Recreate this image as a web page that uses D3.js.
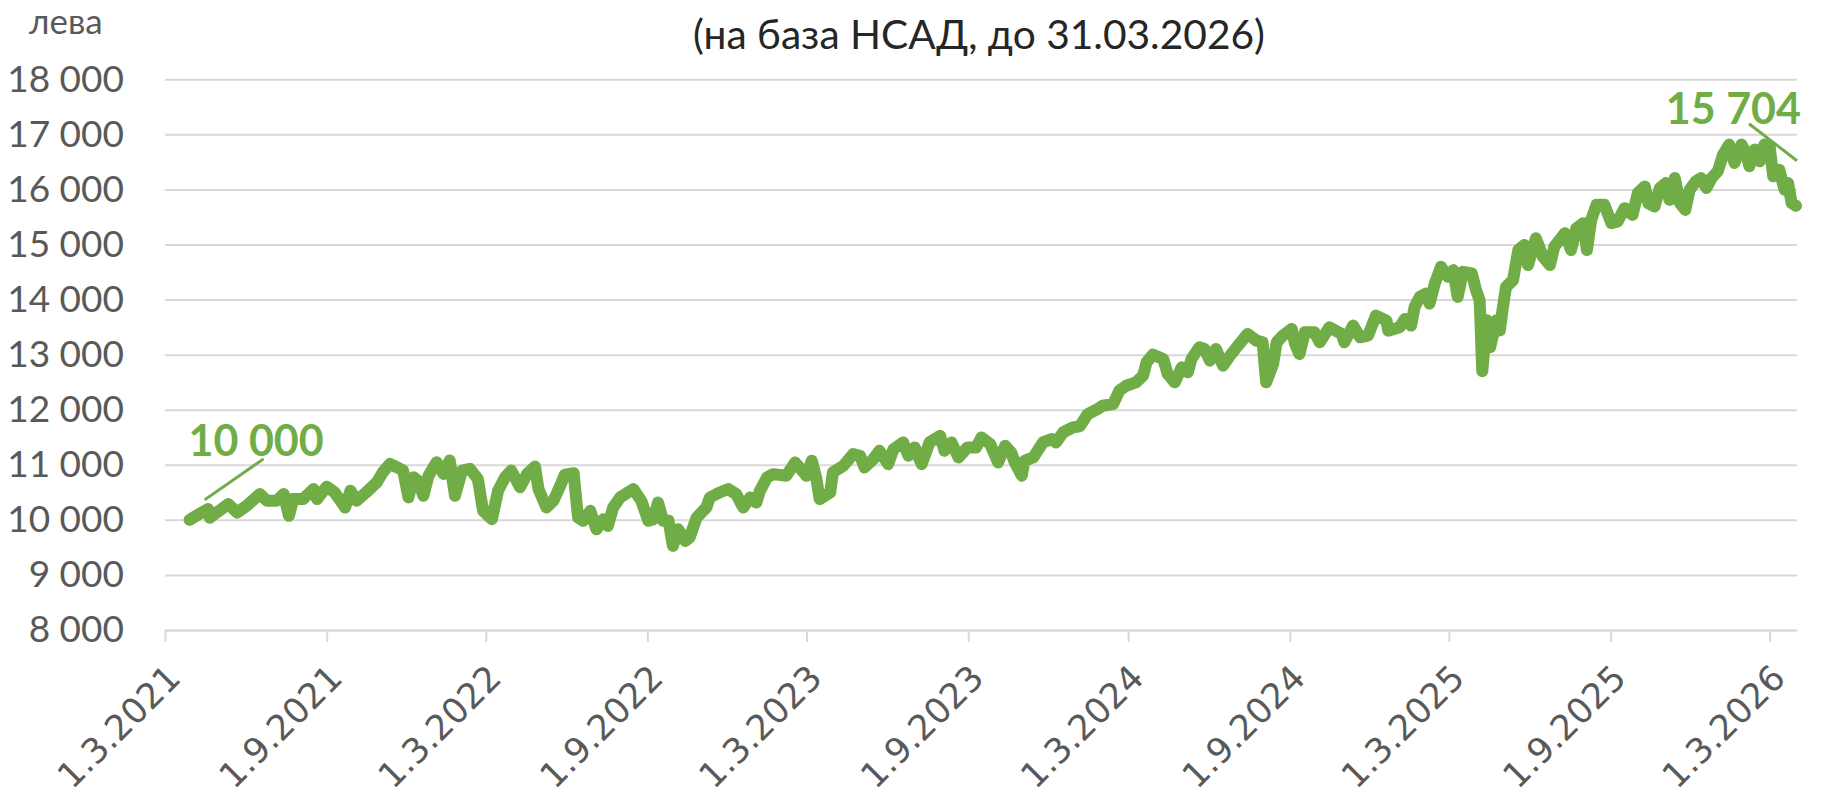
<!DOCTYPE html>
<html>
<head>
<meta charset="utf-8">
<script src="https://cdn.jsdelivr.net/npm/d3@7"></script>
<style>
  body { margin: 0; background: #fff; }
  svg { display: block; }
</style>
</head>
<body>
<svg></svg>
<script>
// values, [date, value in лева]
const pts2021 = [
  ['2021-03-29', 10000], ['2021-04-10', 10116], ['2021-04-19', 10195], ['2021-04-21', 10040],
  ['2021-04-29', 10134], ['2021-05-12', 10286], ['2021-05-22', 10134], ['2021-06-02', 10256],
  ['2021-06-17', 10470], ['2021-06-25', 10347], ['2021-07-06', 10347], ['2021-07-14', 10470],
  ['2021-07-20', 10073], ['2021-07-25', 10378], ['2021-08-05', 10378], ['2021-08-17', 10560],
  ['2021-08-21', 10378], ['2021-09-01', 10603], ['2021-09-10', 10500], ['2021-09-22', 10225],
  ['2021-09-28', 10530], ['2021-10-05', 10347], ['2021-10-16', 10500], ['2021-10-28', 10682],
  ['2021-11-04', 10865], ['2021-11-12', 11017], ['2021-11-20', 10956], ['2021-11-27', 10895],
  ['2021-12-03', 10408], ['2021-12-09', 10773], ['2021-12-14', 10712], ['2021-12-20', 10438],
  ['2021-12-26', 10804]
];
const pts2022 = [
  ['2022-01-04', 11047], ['2022-01-12', 10834], ['2022-01-19', 11078], ['2022-01-25', 10438],
  ['2022-02-02', 10895], ['2022-02-11', 10926], ['2022-02-20', 10743], ['2022-02-26', 10164],
  ['2022-03-08', 10012], ['2022-03-15', 10530], ['2022-03-23', 10773], ['2022-03-30', 10895],
  ['2022-04-09', 10591], ['2022-04-17', 10834], ['2022-04-26', 10968], ['2022-04-30', 10560],
  ['2022-05-09', 10225], ['2022-05-17', 10347], ['2022-05-24', 10591], ['2022-05-30', 10822],
  ['2022-06-09', 10847], ['2022-06-14', 10043], ['2022-06-20', 9982], ['2022-06-28', 10164],
  ['2022-07-05', 9829], ['2022-07-13', 10012], ['2022-07-18', 9890], ['2022-07-24', 10225],
  ['2022-08-01', 10408], ['2022-08-16', 10560], ['2022-08-25', 10347], ['2022-09-02', 9982],
  ['2022-09-08', 10012], ['2022-09-13', 10315], ['2022-09-19', 9982], ['2022-09-25', 9982],
  ['2022-09-30', 9527], ['2022-10-06', 9830], ['2022-10-14', 9618], ['2022-10-19', 9679],
  ['2022-10-27', 10042], ['2022-11-07', 10224], ['2022-11-11', 10406], ['2022-11-22', 10497],
  ['2022-12-02', 10558], ['2022-12-11', 10467], ['2022-12-19', 10224], ['2022-12-27', 10406]
];
const pts2023 = [
  ['2023-01-03', 10315], ['2023-01-07', 10527], ['2023-01-15', 10770], ['2023-01-22', 10830],
  ['2023-02-06', 10800], ['2023-02-16', 11042], ['2023-02-21', 10952], ['2023-03-01', 10800],
  ['2023-03-07', 11073], ['2023-03-12', 10770], ['2023-03-16', 10376], ['2023-03-28', 10497],
  ['2023-03-31', 10861], ['2023-04-12', 10982], ['2023-04-23', 11194], ['2023-05-01', 11164],
  ['2023-05-06', 10952], ['2023-05-16', 11103], ['2023-05-23', 11255], ['2023-06-02', 11012],
  ['2023-06-08', 11285], ['2023-06-19', 11406], ['2023-06-25', 11164], ['2023-07-02', 11315],
  ['2023-07-10', 11012], ['2023-07-19', 11406], ['2023-07-31', 11527], ['2023-08-05', 11255],
  ['2023-08-13', 11406], ['2023-08-21', 11133], ['2023-08-31', 11315], ['2023-09-10', 11315],
  ['2023-09-16', 11497], ['2023-09-26', 11376], ['2023-10-05', 11042], ['2023-10-13', 11345],
  ['2023-10-20', 11224], ['2023-10-24', 11042], ['2023-11-01', 10800], ['2023-11-04', 11073],
  ['2023-11-14', 11133], ['2023-11-25', 11406], ['2023-12-05', 11467], ['2023-12-10', 11406],
  ['2023-12-18', 11588], ['2023-12-29', 11679]
];
const pts2024 = [
  ['2024-01-06', 11700], ['2024-01-15', 11921], ['2024-01-25', 12000], ['2024-02-01', 12073],
  ['2024-02-13', 12103], ['2024-02-20', 12346], ['2024-02-28', 12436], ['2024-03-10', 12497],
  ['2024-03-18', 12618], ['2024-03-22', 12861], ['2024-03-29', 13000], ['2024-04-10', 12921],
  ['2024-04-15', 12649], ['2024-04-23', 12497], ['2024-05-01', 12770], ['2024-05-08', 12679],
  ['2024-05-12', 12921], ['2024-05-21', 13133], ['2024-05-27', 13103], ['2024-06-02', 12891],
  ['2024-06-09', 13103], ['2024-06-17', 12800], ['2024-06-25', 12982], ['2024-07-04', 13164],
  ['2024-07-15', 13376], ['2024-07-25', 13255], ['2024-08-01', 13224], ['2024-08-05', 12497],
  ['2024-08-13', 12830], ['2024-08-17', 13224], ['2024-08-24', 13345], ['2024-09-03', 13467],
  ['2024-09-07', 13194], ['2024-09-12', 13012], ['2024-09-18', 13406], ['2024-09-29', 13406],
  ['2024-10-05', 13224], ['2024-10-16', 13497], ['2024-10-30', 13376], ['2024-11-02', 13224],
  ['2024-11-12', 13527], ['2024-11-20', 13315], ['2024-11-29', 13345], ['2024-12-08', 13709],
  ['2024-12-20', 13618], ['2024-12-22', 13436]
];
const pts2025 = [
  ['2025-01-04', 13497], ['2025-01-10', 13648], ['2025-01-17', 13527], ['2025-01-21', 13866],
  ['2025-01-27', 14049], ['2025-02-03', 14109], ['2025-02-07', 13927], ['2025-02-13', 14292],
  ['2025-02-20', 14596], ['2025-02-28', 14413], ['2025-03-06', 14535], ['2025-03-11', 14049],
  ['2025-03-17', 14505], ['2025-03-27', 14474], ['2025-04-01', 14170], ['2025-04-05', 13988],
  ['2025-04-08', 12700], ['2025-04-13', 13623], ['2025-04-17', 13137], ['2025-04-24', 13623],
  ['2025-04-28', 13441], ['2025-05-01', 13805], ['2025-05-05', 14231], ['2025-05-13', 14353],
  ['2025-05-19', 14900], ['2025-05-26', 14991], ['2025-05-30', 14626], ['2025-06-08', 15113],
  ['2025-06-16', 14778], ['2025-06-24', 14626], ['2025-06-29', 14961], ['2025-07-11', 15204],
  ['2025-07-18', 14900], ['2025-07-24', 15295], ['2025-08-01', 15386], ['2025-08-05', 14900],
  ['2025-08-10', 15447], ['2025-08-16', 15721], ['2025-08-25', 15721], ['2025-09-02', 15386],
  ['2025-09-09', 15417], ['2025-09-17', 15660], ['2025-09-26', 15538], ['2025-10-02', 15933],
  ['2025-10-10', 16055], ['2025-10-14', 15751], ['2025-10-21', 15690], ['2025-10-27', 16025],
  ['2025-11-03', 16116], ['2025-11-07', 15812], ['2025-11-13', 16207], ['2025-11-19', 15751],
  ['2025-11-25', 15629], ['2025-11-30', 15994], ['2025-12-07', 16146], ['2025-12-13', 16207],
  ['2025-12-19', 16025], ['2025-12-25', 16207]
];
const pts2026 = [
  ['2026-01-01', 16329], ['2026-01-07', 16633], ['2026-01-14', 16815], ['2026-01-20', 16481],
  ['2026-01-28', 16815], ['2026-02-02', 16663], ['2026-02-06', 16420], ['2026-02-12', 16724],
  ['2026-02-18', 16511], ['2026-02-23', 16815], ['2026-03-01', 16785], ['2026-03-05', 16237],
  ['2026-03-12', 16359], ['2026-03-18', 15994], ['2026-03-22', 16116], ['2026-03-26', 15751],
  ['2026-03-31', 15704]
];

const yTicks = [8000, 9000, 10000, 11000, 12000, 13000, 14000, 15000, 16000, 17000, 18000];
const xTickLabels = ['1.3.2021', '1.9.2021', '1.3.2022', '1.9.2022', '1.3.2023', '1.9.2023',
                     '1.3.2024', '1.9.2024', '1.3.2025', '1.9.2025', '1.3.2026'];
const xDomain = ['2021-03-01', '2026-03-31'];
const unitLabel = 'лева';
const subtitle = '(на база НСАД, до 31.03.2026)';

// set up
const width = 1832,
      height = 806;

const green = '#70ad47',
      gridColor = '#d9d9d9',
      labelColor = '#595959';

const svg = d3.select('svg')
              .attr('width', width)
              .attr('height', height);

const parseDay = d3.utcParse('%Y-%m-%d'),
      parseTick = d3.utcParse('%d.%m.%Y');

const fmt = d3.formatLocale({decimal: ',', thousands: ' ', grouping: [3], currency: ['', '']}).format(',');

const data = [].concat(pts2021, pts2022, pts2023, pts2024, pts2025, pts2026)
               .map(d => ({date: parseDay(d[0]), value: d[1]}));

// scales
const xscale = d3.scaleUtc()
                 .domain(xDomain.map(parseDay))
                 .range([165, 1796]);

const yscale = d3.scaleLinear()
                 .domain([8000, 18000])
                 .range([630, 79.3]);

// y axis + gridlines
const y_axis = d3.axisLeft(yscale)
                 .tickValues(yTicks)
                 .tickSize(-(1797 - 165))
                 .tickPadding(41)
                 .tickFormat(fmt);

const gy = svg.append('g')
   .attr('transform', 'translate(165, 0)')
   .call(y_axis);
gy.select('.domain').remove();
gy.selectAll('line').attr('stroke', gridColor).attr('stroke-width', 2);
gy.selectAll('text')
  .attr('fill', labelColor)
  .attr('font-family', 'Lato, sans-serif')
  .attr('font-size', 37);

// x axis
const x_axis = d3.axisBottom(xscale)
                 .tickValues(xTickLabels.map(parseTick))
                 .tickSize(12)
                 .tickSizeOuter(0)
                 .tickFormat((d, i) => xTickLabels[i]);

const gx = svg.append('g')
   .attr('transform', 'translate(0, 630)')
   .call(x_axis);
gx.select('.domain').attr('stroke', gridColor).attr('stroke-width', 2);
gx.selectAll('line').attr('stroke', gridColor).attr('stroke-width', 2);
gx.selectAll('text')
  .attr('x', 0).attr('y', 0).attr('dy', 0)
  .attr('text-anchor', 'end')
  .attr('transform', 'translate(17, 50) rotate(-45)')
  .attr('fill', labelColor)
  .attr('font-family', 'DejaVu Sans, sans-serif')
  .attr('font-size', 35);

// line
const lineFunction = d3.line()
      .x(d => xscale(d.date))
      .y(d => yscale(d.value));

svg.append('path')
   .datum(data)
   .attr('d', lineFunction)
   .attr('fill', 'none')
   .attr('stroke', green)
   .attr('stroke-width', 12)
   .attr('stroke-linejoin', 'round')
   .attr('stroke-linecap', 'round');

// first / last value call-outs
const first = data[0],
      last = data[data.length - 1];
const fx = xscale(first.date), fy = yscale(first.value),
      lx = xscale(last.date), ly = yscale(last.value);

svg.append('line')
   .attr('x1', fx + 15).attr('y1', fy - 20)
   .attr('x2', fx + 74).attr('y2', fy - 61)
   .attr('stroke', green).attr('stroke-width', 3);

svg.append('text')
   .attr('x', fx - 1).attr('y', fy - 64)
   .attr('fill', green)
   .attr('font-family', 'Lato, sans-serif')
   .attr('font-weight', 'bold')
   .attr('font-size', 43)
   .text(fmt(first.value));

svg.append('line')
   .attr('x1', lx - 47).attr('y1', ly - 82)
   .attr('x2', lx + 1).attr('y2', ly - 45)
   .attr('stroke', green).attr('stroke-width', 3);

svg.append('text')
   .attr('x', lx + 5).attr('y', ly - 82)
   .attr('text-anchor', 'end')
   .attr('fill', green)
   .attr('font-family', 'Lato, sans-serif')
   .attr('font-weight', 'bold')
   .attr('font-size', 43)
   .text(fmt(last.value));

// titles
svg.append('text')
   .attr('x', 29).attr('y', 34)
   .attr('fill', labelColor)
   .attr('font-family', 'Lato, sans-serif')
   .attr('font-size', 35)
   .text(unitLabel);

svg.append('text')
   .attr('x', 979).attr('y', 49)
   .attr('text-anchor', 'middle')
   .attr('fill', '#262626')
   .attr('font-family', 'Lato, sans-serif')
   .attr('font-size', 41)
   .attr('textLength', 572)
   .attr('lengthAdjust', 'spacingAndGlyphs')
   .text(subtitle);
</script>
</body>
</html>
